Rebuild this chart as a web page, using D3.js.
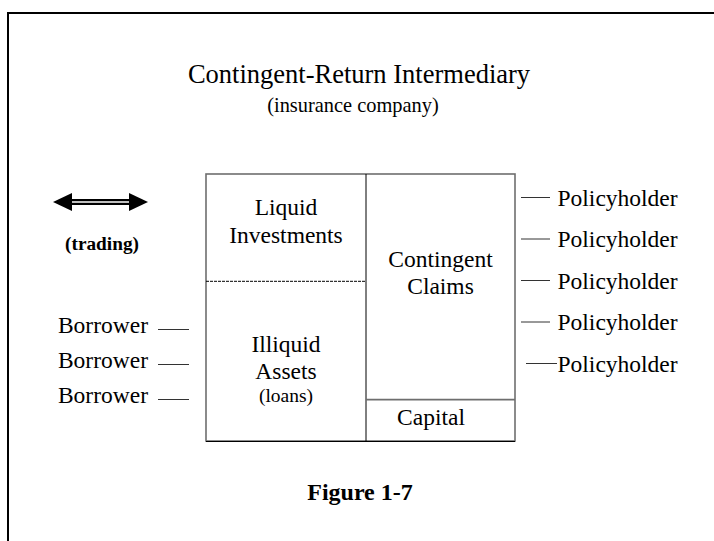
<!DOCTYPE html>
<html>
<head>
<meta charset="utf-8">
<script src="https://cdn.jsdelivr.net/npm/d3@7"></script>
<style>
  body { margin: 0; background: #fff; }
  text { font-family: "Liberation Serif", "Times New Roman", serif; fill: #000; }
</style>
</head>
<body>
<div class="diagram"></div>
<script>
var width = 714;
var height = 541;

// diagram content
var title = "Contingent-Return Intermediary"
var subtitle = "(insurance company)"
var caption = "Figure 1-7"
var borrowers = ["Borrower", "Borrower", "Borrower"]
var policyholders = ["Policyholder", "Policyholder", "Policyholder", "Policyholder", "Policyholder"]
// balance sheet: assets side and claims side, top to bottom, as shares of the box height
var assetNames = ["Liquid Investments", "Illiquid Assets"]
var assetShares = [0.40, 0.60]
var claimNames = ["Contingent Claims", "Capital"]
var claimShares = [0.845, 0.155]

var svg = d3.select("div.diagram").append("svg")
    .attr("width", width)
    .attr("height", height);

// outer frame (only left and top are inside the picture)
svg.append("path")
    .attr("d", "M8,541 L8,13 L714,13")
    .attr("fill", "none")
    .attr("stroke", "#000")
    .attr("stroke-width", 2);

svg.append("text").attr("x", 359).attr("y", 83)
    .attr("text-anchor", "middle").attr("font-size", 26.5).text(title);
svg.append("text").attr("x", 353).attr("y", 112)
    .attr("text-anchor", "middle").attr("font-size", 20.4).text(subtitle);

// balance sheet box
var box = {x0: 206, x1: 515, y0: 174, y1: 441, mid: 366}
var y = d3.scaleLinear().domain([0, 1]).range([box.y0, box.y1])

svg.append("rect")
    .attr("x", box.x0).attr("y", box.y0)
    .attr("width", box.x1 - box.x0).attr("height", box.y1 - box.y0)
    .attr("fill", "none").attr("stroke", "#6e6e6e").attr("stroke-width", 1.6);
svg.append("line")
    .attr("x1", box.mid).attr("x2", box.mid).attr("y1", box.y0).attr("y2", box.y1)
    .attr("stroke", "#000").attr("stroke-width", 1);
svg.append("line")
    .attr("x1", box.x0).attr("x2", box.x1).attr("y1", box.y1 + 0.5).attr("y2", box.y1 + 0.5)
    .attr("stroke", "#000").attr("stroke-width", 1.2);

var liquidBottom = y(assetShares[0])
var claimsBottom = y(claimShares[0])

// dashed divider between liquid and illiquid
svg.append("line")
    .attr("x1", box.x0).attr("x2", box.mid)
    .attr("y1", liquidBottom + 0.5).attr("y2", liquidBottom + 0.5)
    .attr("stroke", "#000").attr("stroke-width", 1).attr("stroke-dasharray", "3,1");
// solid divider above capital
svg.append("line")
    .attr("x1", box.mid).attr("x2", box.x1)
    .attr("y1", claimsBottom).attr("y2", claimsBottom)
    .attr("stroke", "#6e6e6e").attr("stroke-width", 1.6);

var ax = (box.x0 + box.mid) / 2
var cx = (box.mid + box.x1) / 2
var fs = 23.5

function label(x, yy, str, size) {
  return svg.append("text").attr("x", x).attr("y", yy).attr("text-anchor", "middle")
      .attr("font-size", size).text(str);
}
var liq = assetNames[0].split(" ")
var ill = assetNames[1].split(" ")
var con = claimNames[0].split(" ")
label(ax, 215, liq[0], fs)
label(ax, 243, liq[1], fs)
label(ax, 351.5, ill[0], fs)
label(ax, 378.5, ill[1], fs)
label(ax, 402, "(loans)", 19.5)
label(cx, 267, con[0], fs)
label(cx, 294, con[1], fs)
label(431, 425, claimNames[1], fs)

// trading arrow
var arrowY = 202
svg.append("line").attr("x1", 68).attr("x2", 133).attr("y1", arrowY).attr("y2", arrowY)
    .attr("stroke", "#000").attr("stroke-width", 6);
svg.append("line").attr("x1", 66).attr("x2", 135).attr("y1", arrowY).attr("y2", arrowY)
    .attr("stroke", "#fff").attr("stroke-width", 1.6);
svg.append("path").attr("d", "M53," + arrowY + " L72," + (arrowY - 9) + " L72," + (arrowY + 9) + " Z")
    .attr("fill", "#000");
svg.append("path").attr("d", "M148," + arrowY + " L129," + (arrowY - 9) + " L129," + (arrowY + 9) + " Z")
    .attr("fill", "#000");
svg.append("text").attr("x", 102).attr("y", 250).attr("text-anchor", "middle")
    .attr("font-size", 19.3).attr("font-weight", "bold").text("(trading)");

// borrowers
var yBorrow = d3.scalePoint().domain(d3.range(borrowers.length)).range([329, 399])
var bg = svg.selectAll("g.borrower").data(borrowers).enter().append("g")
    .attr("class", "borrower")
    .attr("transform", function(d, i) { return "translate(0," + yBorrow(i) + ")" });
bg.append("text").attr("x", 148).attr("y", 4).attr("text-anchor", "end")
    .attr("font-size", fs).text(function(d) { return d });
bg.append("line").attr("x1", 158).attr("x2", 189).attr("y1", 0.5).attr("y2", 0.5)
    .attr("stroke", "#333").attr("stroke-width", 1);

// policyholders
var last = policyholders.length - 1
var yPol = d3.scalePoint().domain(d3.range(policyholders.length)).range([197, 363])
var pg = svg.selectAll("g.policy").data(policyholders).enter().append("g")
    .attr("class", "policy")
    .attr("transform", function(d, i) { return "translate(0," + yPol(i) + ")" });
pg.append("text").attr("x", 557.5)
    .attr("y", 8.5).attr("font-size", fs).text(function(d) { return d });
pg.append("line")
    .attr("x1", function(d, i) { return i == last ? 526 : 521 })
    .attr("x2", function(d, i) { return i == last ? 557 : 550 })
    .attr("y1", 0.5).attr("y2", 0.5)
    .attr("stroke", "#333").attr("stroke-width", 1);

svg.append("text").attr("x", 360).attr("y", 500).attr("text-anchor", "middle")
    .attr("font-size", 24).attr("font-weight", "bold").text(caption);
</script>
</body>
</html>
